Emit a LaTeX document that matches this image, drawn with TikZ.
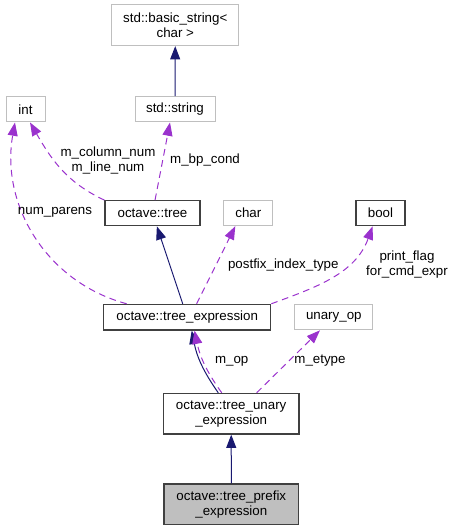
\documentclass[tikz,border=0pt]{standalone}
\usepackage{fontspec}
\setmainfont{Liberation Sans}
\usetikzlibrary{arrows.meta}

\definecolor{edgenavy}{HTML}{191970}
\definecolor{edgepurple}{HTML}{9A32CD}
\definecolor{boxgray}{HTML}{BFBFBF}
\definecolor{boxdark}{HTML}{404040}

\tikzstyle{member} = [font=\fontsize{10}{11.25}\selectfont, align=center, inner sep=0pt]
\tikzstyle{classbox} = [shape=rectangle, font=\fontsize{10}{11.25}\selectfont, align=center, inner sep=0pt]
\tikzstyle{black box} = [classbox, draw=boxdark, line width=0.9pt, fill=white]
\tikzstyle{gray box} = [classbox, draw=boxgray, line width=0.75pt, fill=white]
\tikzstyle{sel box} = [classbox, draw=boxdark, line width=0.9pt, fill=boxgray]
\tikzstyle{inherit edge} = [draw=edgenavy, line width=0.75pt, -{Triangle[length=10pt,width=7.5pt]}, edgenavy]
\tikzstyle{usage edge} = [draw=edgepurple, line width=0.75pt, dash pattern=on 5pt off 3.5pt, -{Triangle[length=10pt,width=7.5pt]}, edgepurple]

\begin{document}
\begin{tikzpicture}[x=0.75pt, y=-0.75pt]
    \useasboundingbox (0,0) rectangle (453,531);
    %% class boxes
    \foreach \nodename/\labeltext/\x/\y/\boxwd/\boxht/\kind in {
      basic/{std::basic\_string<\\char >}/175.3/25.3/95.5pt/30.5pt/gray box,
      string/{std::string}/175/109.3/60pt/19pt/gray box,
      int/{int}/25.5/109.3/29.25pt/19pt/gray box,
      tree/{octave::tree}/152.5/213.2/71.25pt/18.75pt/black box,
      char/{char}/248.3/213.2/36.5pt/18.75pt/gray box,
      bool/{bool}/380.5/213.2/36.75pt/18.75pt/black box,
      texpr/{octave::tree\_expression}/187.2/317.2/125.25pt/19.25pt/black box,
      unaryop/{unary\_op}/333.8/317.2/58.25pt/19pt/gray box,
      tunary/{octave::tree\_unary\\\_expression}/231.2/413.7/101.75pt/30.5pt/black box,
      tprefix/{octave::tree\_prefix\\\_expression}/231.3/504.2/101pt/30.25pt/sel box}
    {
      \node[\kind, minimum width=\boxwd, minimum height=\boxht] (\nodename) at (\x,\y) {\labeltext};
    }

    %% inheritance
    \path
    \foreach \startnode/\endnode in {string/basic, tprefix/tunary, texpr/tree}
    {
      (\startnode) edge[inherit edge] (\endnode)
    };
    \path ([xshift=-9.7pt]tunary.north) edge[inherit edge, bend left=12] ([xshift=3.4pt]texpr.south);

    %% members
    \path ([xshift=-7.1pt]tunary.north) edge[usage edge, bend left=12] ([xshift=5.5pt]texpr.south);
    \path ([xshift=19.1pt]tunary.north) edge[usage edge] ([xshift=-10.4pt]unaryop.south);
    \path (tree.north west) edge[usage edge, out=155, in=-60] ([xshift=3.4pt]int.south);
    \path ([xshift=1.9pt]tree.north) edge[usage edge] ([xshift=-3.75pt]string.south);
    \path ([xshift=-45.4pt]texpr.north) edge[usage edge, out=165, in=-100] ([xshift=-7.9pt]int.south);
    \path ([xshift=7.1pt]texpr.north) edge[usage edge] ([xshift=-9.75pt]char.south);
    \path (texpr.north east) edge[usage edge, out=20, in=-110] ([xshift=-5.9pt]bool.south);

    %% member names
    \node[member] (lblcols) at (108,160) {m\_column\_num\\m\_line\_num};
    \node[member] (lblbp) at (205,160) {m\_bp\_cond};
    \node[member] (lblparens) at (55,212.7) {num\_parens};
    \node[member] (lblpostfix) at (283.3,265) {postfix\_index\_type};
    \node[member] (lblflags) at (407,265) {print\_flag\\for\_cmd\_expr};
    \node[member] (lblop) at (231.7,361) {m\_op};
    \node[member] (lbletype) at (320,361) {m\_etype};
\end{tikzpicture}
\end{document}
